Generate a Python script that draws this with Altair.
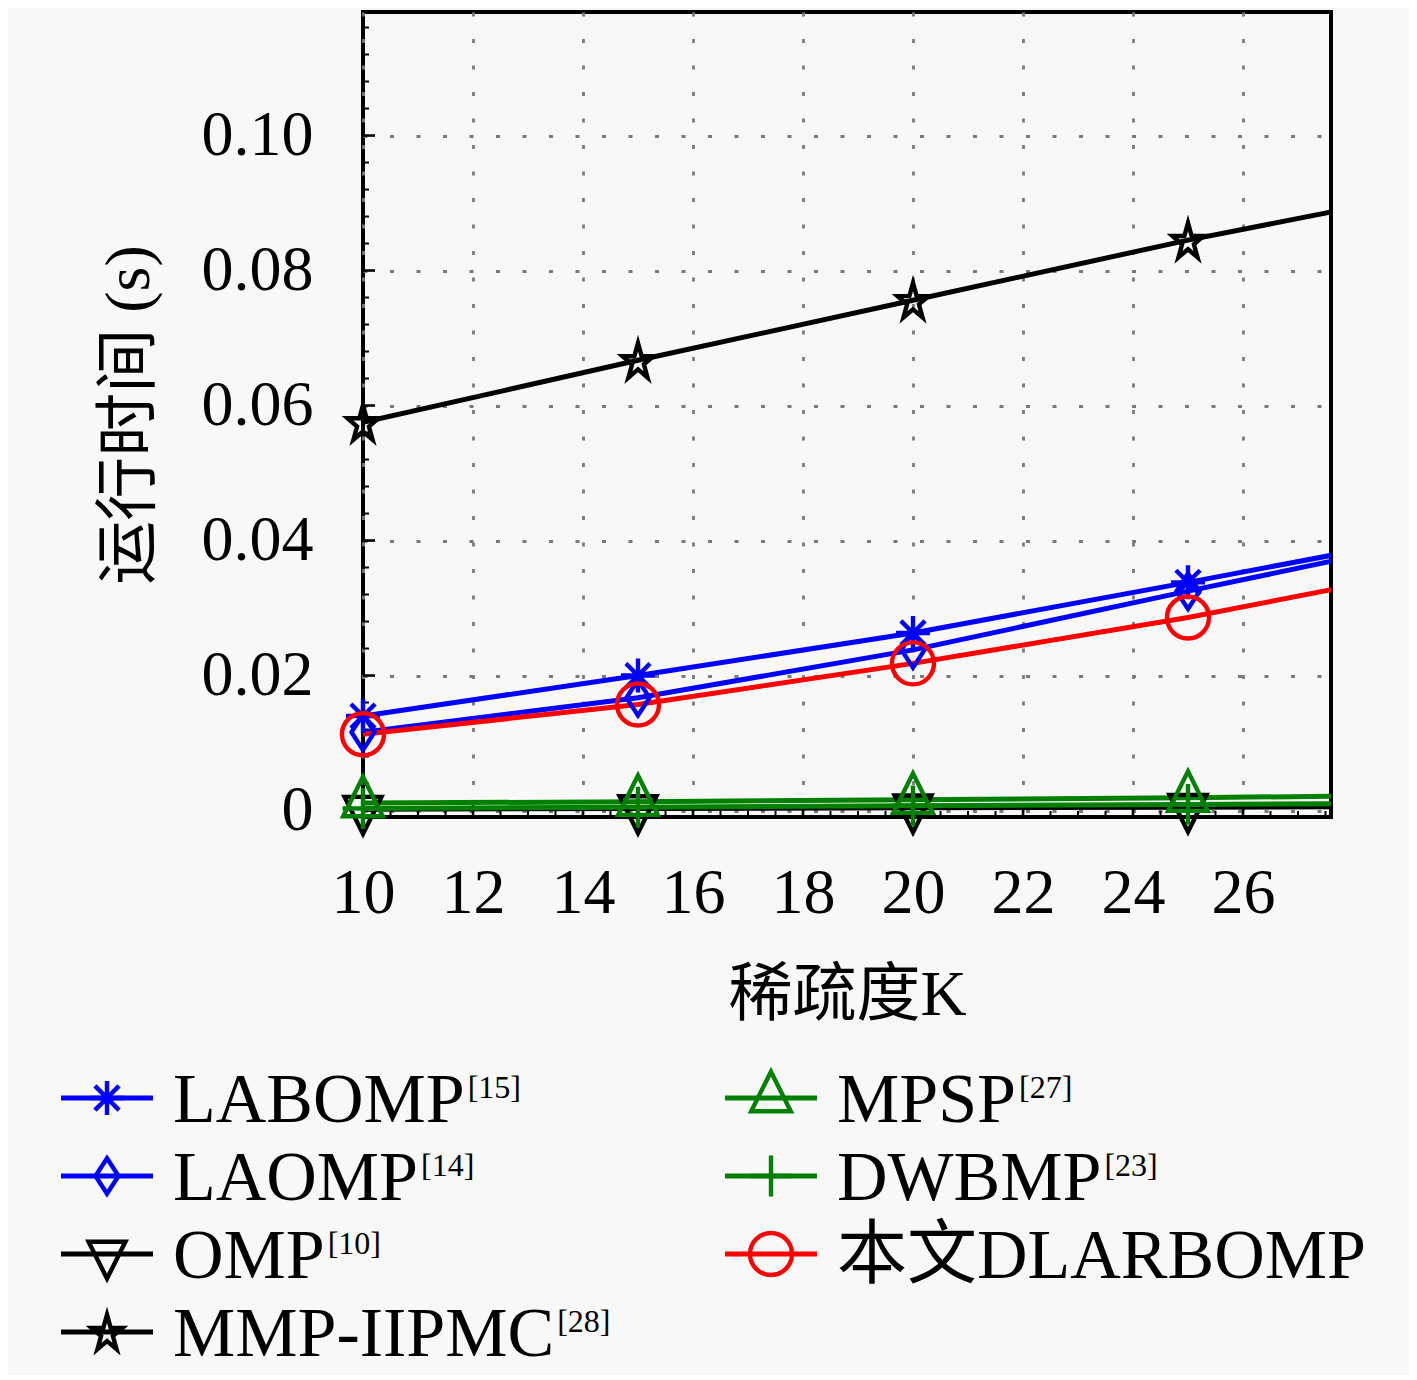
import math
import altair as alt
import pandas as pd

# ---------------- data ----------------
K = [10, 15, 20, 25, 30]
SERIES = ["LABOMP", "LAOMP", "OMP", "MMP-IIPMC", "MPSP", "DWBMP", "本文DLARBOMP"]
REFS = ["[15]", "[14]", "[10]", "[28]", "[27]", "[23]", ""]
LABOMP = [0.0140, 0.0200, 0.0263, 0.0338, 0.0415]
LAOMP = [0.0116, 0.0167, 0.0238, 0.0325, 0.0410]
OMP = [0.0002, 0.0003, 0.0004, 0.0005, 0.0006]
MMP_IIPMC = [0.0575, 0.0667, 0.0756, 0.0845, 0.0925]
MPSP = [0.0011, 0.0013, 0.0016, 0.0019, 0.0023]
DWBMP = [0.0003, 0.0005, 0.0007, 0.0009, 0.0011]
DLARBOMP = [0.0113, 0.0157, 0.0218, 0.0286, 0.0365]
VALUES = [LABOMP, LAOMP, OMP, MMP_IIPMC, MPSP, DWBMP, DLARBOMP]

X_TICKS = [10, 12, 14, 16, 18, 20, 22, 24, 26]
Y_TICKS = [0, 0.02, 0.04, 0.06, 0.08, 0.10]
X_MIN, X_MAX = 10, 27.6
Y_MIN, Y_MAX = -0.00096, 0.1183
X_MINOR = [k / 2 for k in range(21, 56) if k % 4 != 0]
Y_MINOR = [round(k * 0.004, 3) for k in range(1, 30) if k % 5 != 0]

# ---------------- styles ----------------
BLUE, BLACK, GREEN, RED = "#0000ff", "#000000", "#008000", "#ff0000"
COLORS = [BLUE, BLUE, BLACK, BLACK, GREEN, GREEN, RED]

ASTER = "M0,-1L0,1M-1,0L1,0M-0.71,-0.71L0.71,0.71M-0.71,0.71L0.71,-0.71"
DIAMOND = "M0,-1L0.65,0L0,1L-0.65,0Z"
TRI_DOWN = "M-1,-0.667L1,-0.667L0,1.333Z"
TRI_UP = "M0,-1.333L1,0.667L-1,0.667Z"
PLUS = "M0,-1L0,1M-1,0L1,0"
pts = []
for i in range(10):
    a = -math.pi / 2 + i * math.pi / 5
    r = 1.0 if i % 2 == 0 else 0.382
    pts.append((0.85 * r * math.cos(a), r * math.sin(a) + 0.095))
STAR = "M" + "L".join(f"{x:.3f},{y:.3f}" for x, y in pts) + "Z"
SHAPES = [ASTER, DIAMOND, TRI_DOWN, STAR, TRI_UP, PLUS, "circle"]
SIZES = [1156, 1764, 1600, 2116, 1600, 1296, 1225]

FONT = "Liberation Serif, Noto Sans CJK SC, serif"
BG = "#f8f8f8"
PLOT_W, PLOT_H = 968, 805
LINE_W, MARK_W = 5, 4.4

# ---------------- main plot ----------------
rows = []
for name, vals in zip(SERIES, VALUES):
    for k, v in zip(K, vals):
        rows.append({"name": name, "K": k, "time": v})
df = pd.DataFrame(rows)

color = alt.Color("name:N", scale=alt.Scale(domain=SERIES, range=COLORS), legend=None)
shape = alt.Shape("name:N", scale=alt.Scale(domain=SERIES, range=SHAPES), legend=None)
size = alt.Size("name:N", scale=alt.Scale(domain=SERIES, range=SIZES), legend=None)

grid_style = dict(grid=True, gridColor="#7a7a7a", gridDash=[4, 22.5], gridWidth=2.8,
                  ticks=False, domain=False, labelFontSize=64, titleFontSize=64,
                  labelColor="black", titleColor="black", titleFontWeight="normal",
                  labelFont=FONT, titleFont=FONT, labelFlush=False, labelOverlap=False)
X_ENC = alt.X("K:Q", scale=alt.Scale(domain=[X_MIN, X_MAX], nice=False, zero=False),
              axis=alt.Axis(values=X_TICKS, title="稀疏度K", labelPadding=44,
                            titlePadding=38, **grid_style))
Y_ENC = alt.Y("time:Q", scale=alt.Scale(domain=[Y_MIN, Y_MAX], nice=False, zero=False),
              axis=alt.Axis(values=Y_TICKS, title="运行时间 (s)", labelPadding=50,
                            titlePadding=40,
                            labelExpr="datum.value == 0 ? '0' : format(datum.value, '.2f')",
                            **grid_style))

base = alt.Chart(df)
lines = base.mark_line(clip=True, strokeWidth=LINE_W).encode(
    x=X_ENC, y=Y_ENC, color=color, order=alt.Order("K:Q"))
points = base.transform_filter(alt.datum.K <= X_MAX).mark_point(
    filled=False, strokeWidth=MARK_W, opacity=1).encode(
    x=X_ENC, y=Y_ENC, color=color, shape=shape, size=size)

ytick_major = alt.Chart(pd.DataFrame({"time": Y_TICKS})).mark_rule(
    color="black", strokeWidth=2.6).encode(y=Y_ENC, x=alt.value(0), x2=alt.value(12))
ytick_minor = alt.Chart(pd.DataFrame({"time": Y_MINOR})).mark_rule(
    color="black", strokeWidth=2).encode(y=Y_ENC, x=alt.value(0), x2=alt.value(6))
xtick_major = alt.Chart(pd.DataFrame({"K": X_TICKS})).mark_rule(
    color="black", strokeWidth=2.6).encode(x=X_ENC, y=alt.value(PLOT_H), y2=alt.value(PLOT_H - 12))
xtick_minor = alt.Chart(pd.DataFrame({"K": X_MINOR})).mark_rule(
    color="black", strokeWidth=2).encode(x=X_ENC, y=alt.value(PLOT_H), y2=alt.value(PLOT_H - 6))

main = alt.layer(ytick_minor, ytick_major, xtick_minor, xtick_major, lines, points).properties(
    width=PLOT_W, height=PLOT_H,
    view=alt.ViewBackground(stroke="black", strokeWidth=4))

# ---------------- custom legend (two columns, column-major) ----------------
TIMES_W = {"L": 611, "A": 722, "B": 667, "O": 722, "M": 889, "P": 556, "S": 556,
           "D": 722, "W": 944, "I": 333, "C": 667, "-": 333, "R": 667}
LEG_FS = 70
COL_SPAN = 664
leg_rows = []
for i, (name, ref) in enumerate(zip(SERIES, REFS)):
    col, row = i // 4, i % 4
    w = sum(TIMES_W.get(ch, 1000) for ch in name) / 1000 * LEG_FS
    leg_rows.append({"name": name, "ref": ref, "col": col, "row": row,
                     "supx": col + (w + 3) / COL_SPAN})
leg = pd.DataFrame(leg_rows)

LX = alt.Scale(domain=[0, 1], range=[-256, 408])
LY = alt.Scale(domain=[0, 3], range=[48, 282])
lx = alt.X("col:Q", scale=LX, axis=None)
ly = alt.Y("row:Q", scale=LY, axis=None)
lbase = alt.Chart(leg)
lrule = lbase.mark_rule(strokeWidth=LINE_W, xOffset=-46, x2Offset=46).encode(
    x=lx, x2=alt.X2("col:Q"), y=ly, color=color)
lpts = lbase.mark_point(filled=False, strokeWidth=MARK_W, opacity=1).encode(
    x=lx, y=ly, color=color, shape=shape, size=size)
ltext = lbase.mark_text(align="left", baseline="alphabetic", dx=66, dy=24,
                        fontSize=LEG_FS, font=FONT, color="black").encode(
    x=lx, y=ly, text="name:N")
lsup = lbase.mark_text(align="left", baseline="alphabetic", dx=66, dy=0,
                       fontSize=32, font=FONT, color="black").encode(
    x=alt.X("supx:Q", scale=LX, axis=None), y=ly, text="ref:N")
legend = alt.layer(lrule, lpts, ltext, lsup).properties(width=PLOT_W, height=320)

chart = alt.vconcat(main, legend, spacing=233, bounds="flush").resolve_scale(
    x="independent", y="independent", color="independent",
    shape="independent", size="independent").properties(
    padding={"left": 50, "top": 2, "right": 40, "bottom": 5},
    background=BG).configure_view(strokeWidth=0)

chart.save("out.html", embed_options={"renderer": "svg", "actions": False})
